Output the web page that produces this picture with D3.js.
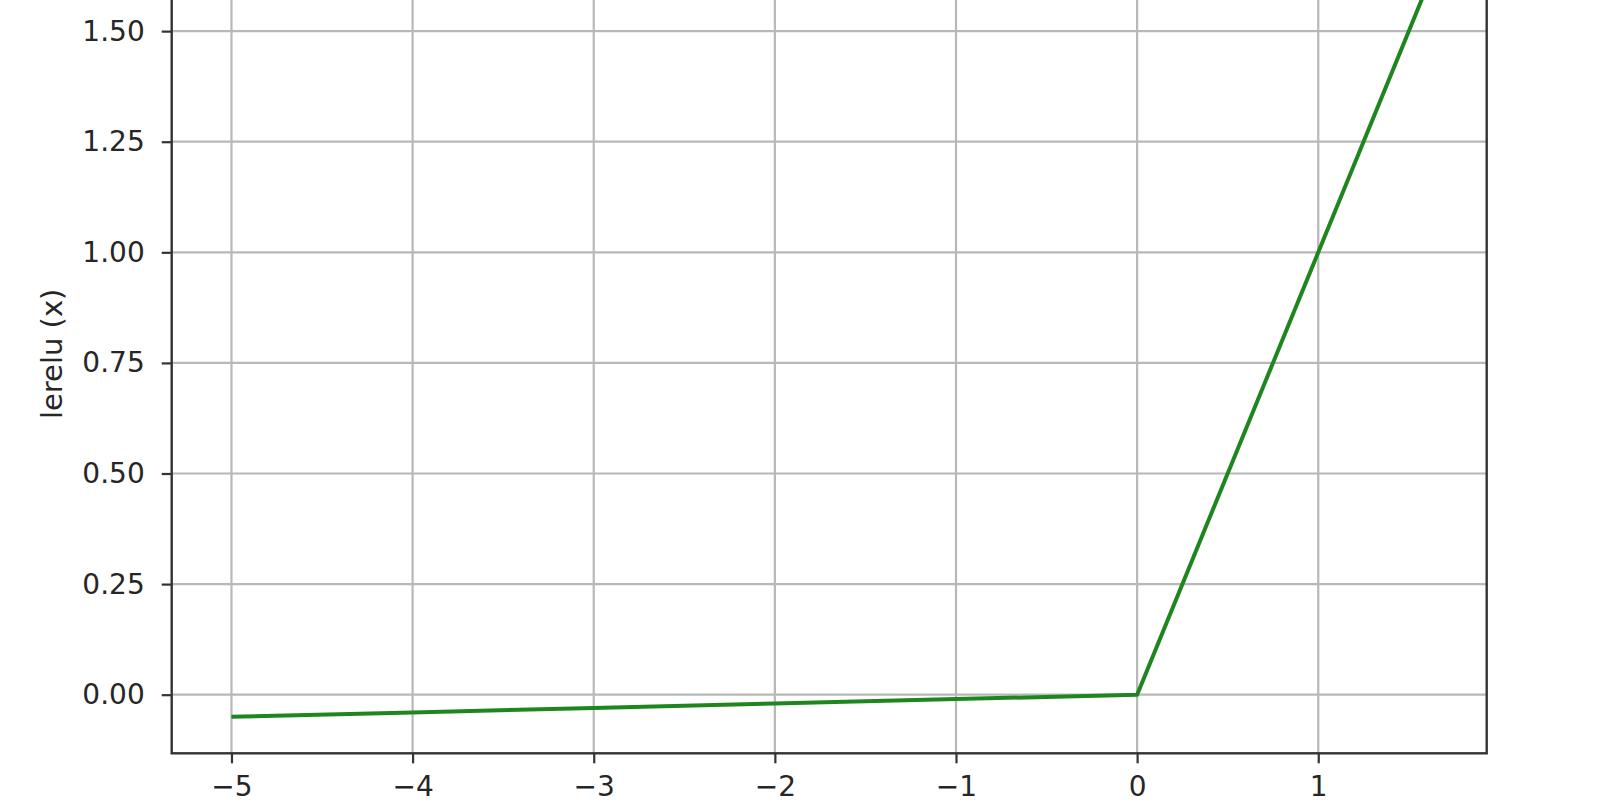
<!DOCTYPE html>
<html>
<head>
<meta charset="utf-8">
<script src="https://cdn.jsdelivr.net/npm/d3@7"></script>
<style>
  body { margin: 0; background: #fff; }
  svg { display: block; font-family: "DejaVu Sans", sans-serif; }
</style>
</head>
<body>
<svg id="chart" width="1600" height="800"></svg>
<script>
// leaky relu samples
const xValues = [-5, -4, -3, -2, -1, 0, 1, 1.6];
const yValues = [-0.05, -0.04, -0.03, -0.02, -0.01, 0, 1, 1.6];
const xTicks = [-5, -4, -3, -2, -1, 0, 1];
const yTicks = [0, 0.25, 0.5, 0.75, 1, 1.25, 1.5, 1.75];
const yLabel = "lerelu (x)";

const svg = d3.select("#chart");

// plot box (top edge sits above the visible window, like the cropped picture)
const boxL = 171.7, boxR = 1486.7, boxB = 753.3, boxT = -49.6;

// matplotlib style 5% margins
const xExt = d3.extent(xValues), yExt = d3.extent(yValues);
const xPad = (xExt[1] - xExt[0]) * 0.05, yPad = (yExt[1] - yExt[0]) * 0.05;

const x = d3.scaleLinear().domain([xExt[0] - xPad, xExt[1] + xPad]).range([boxL, boxR]);
const y = d3.scaleLinear().domain([yExt[0] - yPad, yExt[1] + yPad]).range([boxB, boxT]);

svg.append("defs").append("clipPath").attr("id", "clip")
  .append("rect")
  .attr("x", boxL).attr("y", boxT)
  .attr("width", boxR - boxL).attr("height", boxB - boxT);

// grid
const grid = svg.append("g").attr("clip-path", "url(#clip)");
grid.selectAll(".vx").data(xTicks).enter().append("line")
  .attr("x1", d => x(d)).attr("x2", d => x(d))
  .attr("y1", boxT).attr("y2", boxB)
  .attr("stroke", "#b8b8b8").attr("stroke-width", 2.2);
grid.selectAll(".hy").data(yTicks).enter().append("line")
  .attr("y1", d => y(d)).attr("y2", d => y(d))
  .attr("x1", boxL).attr("x2", boxR)
  .attr("stroke", "#b8b8b8").attr("stroke-width", 2.2);

// the curve
const pts = xValues.map((v, i) => [v, yValues[i]]);
const line = d3.line().x(d => x(d[0])).y(d => y(d[1]));
svg.append("g").attr("clip-path", "url(#clip)")
  .append("path")
  .datum(pts)
  .attr("d", line)
  .attr("fill", "none")
  .attr("stroke", "#1f861f")
  .attr("stroke-width", 4)
  .attr("stroke-linejoin", "round");

// axes
const xAxis = svg.append("g")
  .attr("transform", "translate(0," + boxB + ")")
  .call(d3.axisBottom(x).tickValues(xTicks).tickSize(10).tickPadding(13).tickFormat(d3.format("d")));
const yAxis = svg.append("g")
  .attr("transform", "translate(" + boxL + ",0)")
  .call(d3.axisLeft(y).tickValues(yTicks).tickSize(10).tickPadding(17).tickFormat(d3.format(".2f")));

[xAxis, yAxis].forEach(a => {
  a.select(".domain").remove();
  a.selectAll("line").attr("stroke", "#333").attr("stroke-width", 2.2);
  a.selectAll("text").attr("fill", "#262626").style("font-size", "28px")
    .style("font-family", "DejaVu Sans, sans-serif");
});

// frame
svg.append("rect")
  .attr("x", boxL).attr("y", boxT)
  .attr("width", boxR - boxL).attr("height", boxB - boxT)
  .attr("fill", "none").attr("stroke", "#333").attr("stroke-width", 2.4);

// y label
svg.append("text")
  .attr("transform", "translate(62," + ((boxT + boxB) / 2 + 2) + ") rotate(-90)")
  .attr("text-anchor", "middle")
  .attr("fill", "#262626")
  .style("font-size", "29px")
  .text(yLabel);
</script>
</body>
</html>
